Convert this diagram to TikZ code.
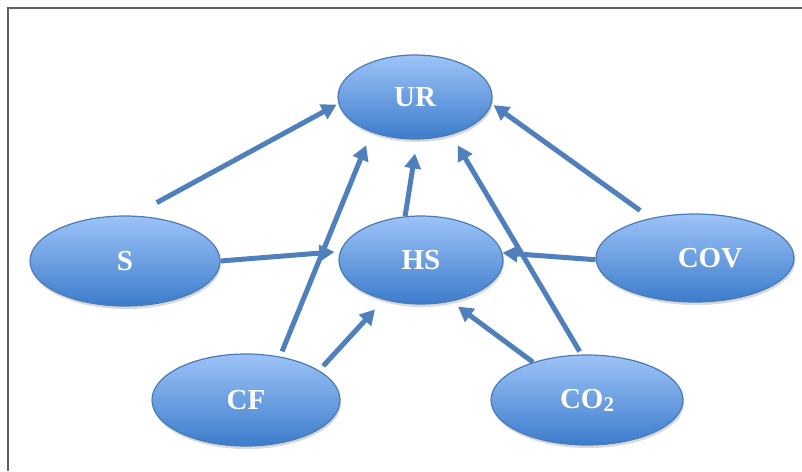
\documentclass[tikz,border=0pt]{standalone}
\usepackage{fontspec}
\setmainfont{Liberation Serif}
\usetikzlibrary{shapes.geometric,arrows.meta,shadows}
\definecolor{bluetop}{HTML}{9DC3F8}
\definecolor{bluebot}{HTML}{3C7CCB}
\definecolor{blueedge}{HTML}{4A7BB7}
\definecolor{arrowblue}{HTML}{4F80BC}
\definecolor{framegray}{HTML}{606060}

\begin{document}
\begin{tikzpicture}[x=1pt, y=-1pt,
    blob/.style = {ellipse, draw=blueedge, line width=1.2pt, top color=bluetop, bottom color=bluebot,
                   inner sep=0pt, text=white, font=\fontsize{29}{33}\selectfont\bfseries,
                   drop shadow={opacity=0.3, shadow xshift=1pt, shadow yshift=-3pt}},
    link/.style = {draw=arrowblue, line width=5pt, -{Triangle[length=15pt,width=16pt]}}]
        \useasboundingbox (0,0) rectangle (802,471);
        \draw[framegray, line width=1.5pt] (8,471) -- (8,8) -- (802,8);
        \node[blob, minimum width=154pt, minimum height=84pt] (UR) at (415,97) {UR};
        \node[blob, minimum width=164pt, minimum height=88pt] (HS) at (421,260) {HS};
        \node[blob, minimum width=190pt, minimum height=90pt] (S) at (125,261) {S};
        \node[blob, minimum width=188pt, minimum height=92pt] (CF) at (246,400) {CF};
        \node[blob, minimum width=192pt, minimum height=90pt] (CO2) at (587,400) {CO\raisebox{-3pt}{\fontsize{21}{21}\selectfont 2}};
        \node[blob, minimum width=198pt, minimum height=88pt] (COV) at (695,258) {\hspace*{30pt}COV};
        \draw[link, shorten <=27pt, shorten >=2pt] (S.80) -- (UR.185);
        \draw[link, shorten >=5.5pt] (S.0) -- (HS.174);
        \draw[link, shorten <=5.5pt, shorten >=14pt] (CF.52) -- (UR.219);
        \draw[link, shorten <=6pt, shorten >=13pt] (CF.22) -- (HS.227);
        \draw[link, shorten >=14pt] (HS.110) -- (UR.273);
        \draw[link, shorten <=3.5pt, shorten >=12.5pt] (CO2.97) -- (UR.314);
        \draw[link, shorten >=8.5pt] (CO2.145) -- (HS.306);
        \draw[link] (COV.181) -- (HS.5);
        \draw[link, shorten <=13pt, shorten >=2.5pt] (COV.138) -- (UR.355);
\end{tikzpicture}
\end{document}
